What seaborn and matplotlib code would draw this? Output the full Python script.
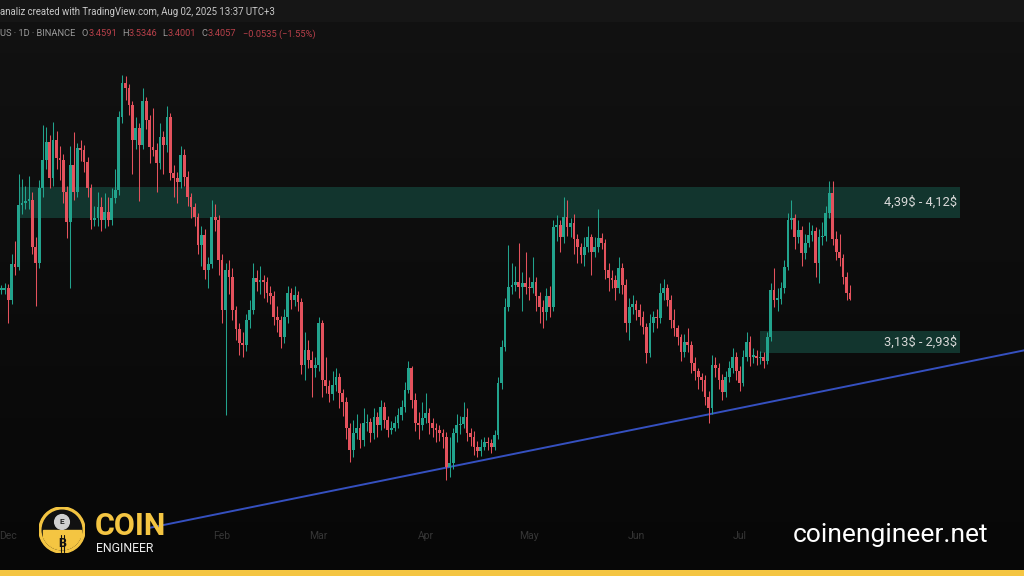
import numpy as np
import pandas as pd
import matplotlib
matplotlib.use("Agg")
import matplotlib.pyplot as plt
import matplotlib.patches as mpatches
import matplotlib.transforms as mtransforms
import seaborn as sns

# daily candles, SUI/USDT 1D (BINANCE)
first_day = "2024-11-29"
closes = [
    3.49, 3.50, 3.40, 3.71, 3.69, 4.23, 4.25, 4.27, 4.28, 3.86,
    3.72, 4.38, 4.63, 4.78, 4.47, 4.80, 4.64, 4.63, 4.35, 4.08,
    4.58, 4.35, 4.73, 4.71, 4.61, 4.38, 4.10, 4.12, 4.21, 4.10,
    4.17, 4.10, 4.29, 4.36, 5.00, 5.30, 5.26, 5.11, 4.80, 4.91,
    4.76, 5.14, 4.98, 4.74, 4.71, 4.60, 4.83, 4.76, 5.00, 4.51,
    4.47, 4.43, 4.67, 4.48, 4.30, 4.21, 4.13, 3.88, 3.97, 3.66,
    3.71, 4.13, 4.10, 3.75, 3.31, 3.66, 3.60, 3.31, 3.14, 3.02,
    3.00, 3.22, 3.31, 3.59, 3.56, 3.57, 3.56, 3.46, 3.43, 3.25,
    3.22, 3.07, 3.25, 3.46, 3.40, 3.44, 3.38, 2.83, 2.96, 2.87,
    2.80, 2.83, 3.20, 2.70, 2.64, 2.57, 2.65, 2.72, 2.58, 2.50,
    2.28, 2.08, 2.23, 2.28, 2.17, 2.32, 2.33, 2.23, 2.37, 2.30,
    2.46, 2.35, 2.26, 2.28, 2.32, 2.39, 2.46, 2.61, 2.80, 2.52,
    2.32, 2.30, 2.36, 2.41, 2.32, 2.28, 2.26, 2.23, 2.20, 1.93,
    1.97, 2.23, 2.30, 2.31, 2.37, 2.23, 2.20, 2.11, 2.07, 2.11,
    2.15, 2.14, 2.11, 2.21, 2.67, 2.99, 3.34, 3.51, 3.53, 3.56,
    3.51, 3.55, 3.51, 3.50, 3.56, 3.43, 3.34, 3.29, 3.43, 3.34,
    4.04, 4.06, 3.95, 4.13, 4.04, 4.07, 3.93, 3.86, 3.79, 3.86,
    3.95, 3.82, 3.86, 3.94, 3.90, 3.66, 3.59, 3.57, 3.50, 3.68,
    3.53, 3.20, 3.34, 3.36, 3.31, 3.25, 3.16, 2.93, 3.20, 3.25,
    3.24, 3.46, 3.50, 3.40, 3.22, 3.15, 3.07, 2.94, 3.03, 3.00,
    2.85, 2.78, 2.72, 2.70, 2.55, 2.45, 2.83, 2.80, 2.70, 2.59,
    2.72, 2.80, 2.90, 2.78, 2.67, 2.90, 3.03, 2.90, 2.91, 2.89,
    2.90, 2.86, 3.07, 3.49, 3.40, 3.41, 3.50, 3.69, 4.10, 4.12,
    3.95, 4.01, 3.81, 3.90, 3.97, 4.00, 3.72, 3.95, 3.96, 4.16,
    4.34, 3.93, 3.82, 3.77, 3.60, 3.46, 3.41,
]
highs = [
    3.53, 3.55, 3.54, 3.80, 3.92, 4.50, 4.46, 4.40, 4.49, 4.35,
    3.95, 4.45, 4.93, 4.92, 4.85, 4.96, 4.88, 4.75, 4.68, 4.40,
    4.75, 4.87, 4.78, 4.80, 4.76, 4.65, 4.42, 4.22, 4.35, 4.30,
    4.34, 4.30, 4.38, 4.55, 5.06, 5.37, 5.36, 5.29, 5.14, 5.00,
    4.95, 5.26, 5.18, 5.02, 5.08, 4.78, 4.95, 4.88, 5.10, 5.04,
    4.58, 4.52, 4.75, 4.72, 4.53, 4.34, 4.25, 4.16, 4.05, 4.02,
    3.78, 4.28, 4.24, 4.14, 3.80, 3.72, 3.75, 3.68, 3.35, 3.20,
    3.12, 3.28, 3.40, 3.72, 3.66, 3.70, 3.62, 3.60, 3.52, 3.48,
    3.35, 3.26, 3.32, 3.52, 3.50, 3.52, 3.48, 3.42, 3.12, 3.05,
    2.95, 2.90, 3.25, 3.22, 2.90, 2.70, 2.78, 2.80, 2.76, 2.62,
    2.55, 2.32, 2.35, 2.40, 2.32, 2.45, 2.40, 2.36, 2.45, 2.42,
    2.52, 2.50, 2.38, 2.34, 2.38, 2.45, 2.52, 2.68, 2.86, 2.82,
    2.58, 2.42, 2.50, 2.58, 2.45, 2.36, 2.32, 2.30, 2.27, 2.24,
    2.20, 2.28, 2.40, 2.38, 2.50, 2.45, 2.28, 2.25, 2.16, 2.18,
    2.20, 2.20, 2.18, 2.26, 2.72, 3.05, 3.42, 3.88, 3.72, 3.70,
    3.90, 3.64, 3.82, 3.60, 3.78, 3.60, 3.47, 3.40, 3.50, 3.52,
    4.10, 4.14, 4.10, 4.30, 4.28, 4.12, 4.15, 3.98, 3.90, 3.95,
    4.05, 3.98, 3.95, 4.20, 3.99, 3.93, 3.72, 3.66, 3.62, 3.78,
    3.72, 3.58, 3.42, 3.44, 3.40, 3.36, 3.30, 3.20, 3.28, 3.30,
    3.32, 3.55, 3.58, 3.54, 3.44, 3.32, 3.18, 3.10, 3.10, 3.15,
    3.04, 2.90, 2.80, 2.76, 2.74, 2.60, 2.92, 2.90, 2.85, 2.75,
    2.78, 2.86, 2.98, 2.94, 2.82, 2.96, 3.12, 3.08, 2.98, 2.96,
    2.95, 2.94, 3.12, 3.55, 3.68, 3.50, 3.56, 3.75, 4.16, 4.28,
    4.15, 4.10, 4.05, 3.98, 4.08, 4.06, 4.04, 4.02, 4.08, 4.22,
    4.44, 4.44, 4.00, 3.98, 3.80, 3.64, 3.53,
]
lows = [
    3.45, 3.45, 3.20, 3.36, 3.62, 3.66, 4.15, 4.20, 4.20, 3.80,
    3.35, 3.68, 4.30, 4.55, 4.38, 4.40, 4.55, 4.45, 4.25, 3.94,
    3.50, 4.28, 4.30, 4.62, 4.52, 4.30, 4.02, 4.05, 4.05, 4.00,
    4.03, 4.05, 4.06, 4.25, 4.32, 4.95, 5.15, 5.02, 4.50, 4.72,
    4.27, 4.72, 4.90, 4.60, 4.66, 4.35, 4.55, 4.50, 4.70, 4.45,
    4.30, 4.25, 4.38, 4.40, 4.22, 4.12, 4.05, 3.80, 3.70, 3.58,
    3.50, 3.68, 4.00, 3.62, 3.20, 2.39, 3.45, 3.22, 3.05, 2.92,
    2.90, 2.95, 3.15, 3.28, 3.48, 3.45, 3.42, 3.38, 3.36, 3.18,
    3.12, 2.98, 3.02, 3.20, 3.32, 3.35, 3.30, 2.75, 2.70, 2.80,
    2.55, 2.72, 2.78, 2.55, 2.58, 2.50, 2.52, 2.60, 2.45, 2.38,
    2.18, 1.98, 2.02, 2.18, 2.10, 2.12, 2.25, 2.15, 2.18, 2.20,
    2.26, 2.28, 2.20, 2.22, 2.25, 2.28, 2.35, 2.42, 2.58, 2.45,
    2.25, 2.18, 2.26, 2.32, 2.22, 2.20, 2.15, 2.16, 2.10, 1.82,
    1.85, 1.92, 2.15, 2.22, 2.28, 2.16, 2.12, 2.04, 2.02, 2.03,
    2.08, 2.08, 2.06, 2.08, 2.18, 2.62, 2.95, 3.30, 3.45, 3.48,
    3.42, 3.30, 3.45, 3.40, 3.46, 3.30, 3.20, 3.15, 3.22, 3.25,
    3.30, 3.92, 3.82, 3.90, 3.96, 3.95, 3.80, 3.72, 3.72, 3.70,
    3.82, 3.62, 3.78, 3.82, 3.85, 3.58, 3.48, 3.50, 3.40, 3.46,
    3.45, 3.12, 3.05, 3.28, 3.22, 3.18, 3.10, 2.85, 2.90, 3.12,
    3.15, 3.20, 3.40, 3.35, 3.15, 3.08, 3.00, 2.86, 2.90, 2.94,
    2.76, 2.70, 2.62, 2.60, 2.48, 2.32, 2.40, 2.72, 2.62, 2.52,
    2.55, 2.68, 2.76, 2.70, 2.60, 2.64, 2.86, 2.82, 2.85, 2.83,
    2.84, 2.80, 2.84, 3.04, 3.34, 3.30, 3.36, 3.46, 3.66, 4.02,
    3.85, 3.90, 3.70, 3.76, 3.86, 3.92, 3.60, 3.55, 3.88, 3.92,
    4.12, 3.88, 3.75, 3.70, 3.54, 3.40, 3.40,
]

zone_top = [4.39, 3.13]
zone_bottom = [4.12, 2.93]
zone_labels = ["4,39$ - 4,12$", "3,13$ - 2,93$"]
zone_start = [5.4, 219.9]          # candle index where each box begins

trend_idx = [43, 297]
trend_price = [1.40, 2.96]

# month names shown on the time axis (Jan / Aug sit under the logo and url)
month_labels = ["Dec", "Feb", "Mar", "Apr", "May", "Jun", "Jul"]

header_1 = "analiz created with TradingView.com, Aug 02, 2025 13:37 UTC+3"
symbol_txt = "US · 1D · BINANCE"
ohlc_keys = ["O", "H", "L", "C"]
ohlc_vals = ["3.4591", "3.5346", "3.4001", "3.4057"]
change_txt = "\u22120.0535 (\u22121.55%)"

# ---- build the table
dates = pd.date_range(first_day, periods=len(closes), freq="D")
df = pd.DataFrame({"date": dates, "close": closes, "high": highs, "low": lows})
df["open"] = df["close"].shift(1).fillna(df["close"].iloc[0])
df["idx"] = np.arange(len(df))
df["up"] = df["close"] >= df["open"]

GREEN = "#22a38d"
RED = "#e4525d"
BG = "#0e0e0e"
YELLOW = "#f4c542"

sns.set_theme(style="dark", rc={"axes.facecolor": BG, "figure.facecolor": BG})
plt.rcParams["font.family"] = ["Roboto", "DejaVu Sans"]

W, H = 1024, 576
fig = plt.figure(figsize=(W / 100, H / 100), dpi=100)
ax = fig.add_axes([0, 0, 1, 1])
XL = (-1.3 / 3.45, (W - 1.3) / 3.45)
YL = (6.030 - H / 114, 6.030)

# background, slightly darker toward the bottom
grad = np.linspace(0, 1, 256).reshape(-1, 1)
cmap = matplotlib.colors.LinearSegmentedColormap.from_list("bg", ["#121212", "#070707"])
ax.imshow(grad, aspect="auto", cmap=cmap, extent=[XL[0], XL[1], YL[0], YL[1]],
          zorder=0, origin="upper")

# zones
right_edge = (960 - 1.3) / 3.45
for top, bot, lab, x0 in zip(zone_top, zone_bottom, zone_labels, zone_start):
    ax.add_patch(mpatches.Rectangle((x0, bot), right_edge - x0, top - bot,
                                    facecolor="#12352e", edgecolor="none", zorder=1))
    ax.text(right_edge - 1, (top + bot) / 2, lab, color="#d8d8d8", fontsize=9.3,
            ha="right", va="center", zorder=5, parse_math=False)

# trend line
sns.lineplot(x=trend_idx, y=trend_price, ax=ax, color="#3550c0", linewidth=1.4,
             zorder=2, legend=False)

# candles
colors = np.where(df["up"], GREEN, RED)
ax.vlines(df["idx"], df["low"], df["high"], colors=colors, linewidth=0.75, zorder=3)
body_lo = np.minimum(df["open"], df["close"])
body_h = np.maximum((df["close"] - df["open"]).abs(), 0.012)
ax.bar(df["idx"], body_h, bottom=body_lo, width=0.8, color=colors, linewidth=0, zorder=4)

ax.set_xlim(*XL)
ax.set_ylim(*YL)
ax.set_axis_off()

# month labels
trans = mtransforms.blended_transform_factory(ax.transData, ax.transAxes)
for i, d in zip(df["idx"], df["date"]):
    lab = d.strftime("%b")
    if d.day == 1 and lab in month_labels:
        ax.text(i, 1 - 536 / H, lab, transform=trans, color="#363636",
                fontsize=7.5, ha="center", va="center", zorder=2)

# header strip
fig.patches.append(mpatches.Rectangle((0, 1 - 22 / H), 1, 22 / H, transform=fig.transFigure,
                                      facecolor="#161616", edgecolor="none", zorder=10))
fig.text(0, 1 - 12 / H, header_1, color="#c8c8c8", fontsize=6.9, va="center", zorder=11)

renderer = fig.canvas.get_renderer()


def put_piece(x_px, txt, col, size=6.7):
    t = fig.text(x_px / W, 1 - 34 / H, txt, color=col, fontsize=size, va="center", zorder=11)
    return t.get_window_extent(renderer=renderer).x1


x = put_piece(0, symbol_txt, "#9a9a9a")
x += 6
for k, v in zip(ohlc_keys, ohlc_vals):
    x = put_piece(x, k, "#9a9a9a")
    x = put_piece(x + 0.5, v, "#b8404a")
    x += 5
put_piece(x + 1, change_txt, "#b8404a")

# bottom bar
fig.patches.append(mpatches.Rectangle((0, 0), 1, 6 / H, transform=fig.transFigure,
                                      facecolor=YELLOW, edgecolor="none", zorder=10))

# logo
r = 23
logo = fig.add_axes([(62 - r) / W, 1 - (530 + r) / H, 2 * r / W, 2 * r / H])
logo.set_xlim(-1, 1)
logo.set_ylim(-1, 1)
logo.set_axis_off()
logo.patch.set_alpha(0)
logo.add_patch(mpatches.Circle((0, 0), 1.0, color=YELLOW))
logo.add_patch(mpatches.Circle((0, 0), 0.86, color="#111111"))
logo.add_patch(mpatches.Wedge((0, 0), 0.86, 200, 340, color=YELLOW))
logo.add_patch(mpatches.Rectangle((-0.81, -0.3), 1.62, 0.28, color=YELLOW))
logo.add_patch(mpatches.Circle((0, 0.35), 0.32, color="#d0d0d0"))
logo.text(0, 0.35, "E", color="#222222", fontsize=6, ha="center", va="center", fontweight="bold")
logo.text(0, -0.58, "B", color="#111111", fontsize=9, ha="center", va="center",
          fontweight="bold")
logo.plot([-0.05, -0.05], [-0.95, -0.22], color="#111111", linewidth=0.8)
logo.plot([0.08, 0.08], [-0.95, -0.22], color="#111111", linewidth=0.8)

fig.text(95 / W, 1 - 535 / H, "COIN", color=YELLOW, fontsize=22, fontweight="bold",
         va="baseline", zorder=11)
fig.text(96 / W, 1 - 552 / H, "ENGINEER", color="#eeeeee", fontsize=8.8,
         va="baseline", zorder=11)
fig.text(988 / W, 1 - 535 / H, "coinengineer.net", color="#ffffff", fontsize=19,
         ha="right", va="center", zorder=11)

fig.savefig("out.png", dpi=100, facecolor=BG)
